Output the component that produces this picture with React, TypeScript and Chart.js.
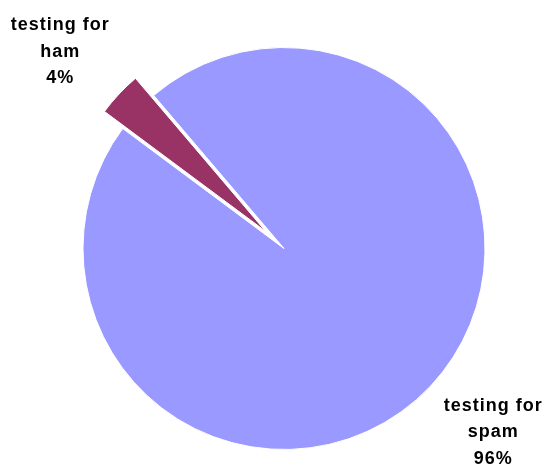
import React, { useEffect, useRef } from "react";
import { Chart, registerables } from "chart.js";

Chart.register(...registerables);

const categories: string[] = ["testing for spam", "testing for ham"];
const labelLines: string[][] = [
  ["testing for", "spam"],
  ["testing for", "ham"],
];
const values: number[] = [96.4, 3.6];
const sliceColors: string[] = ["#9999FF", "#993366"];

// explosion distance (px) of each slice and label gap, style settings
const EXPLODE = [0, 25];
const LABEL_GAP = [18, 14];

const explodePlugin = {
  id: "explodeSlices",
  beforeDatasetsDraw(chart: any) {
    const meta = chart.getDatasetMeta(0);
    meta.data.forEach((arc: any, i: number) => {
      if (!EXPLODE[i] || arc._patched) return;
      const orig = arc.draw;
      arc.draw = function (ctx: CanvasRenderingContext2D, area: any) {
        const mid = (this.startAngle + this.endAngle) / 2;
        ctx.save();
        ctx.translate(Math.cos(mid) * EXPLODE[i], Math.sin(mid) * EXPLODE[i]);
        orig.call(this, ctx, area);
        ctx.restore();
      };
      arc._patched = true;
    });
  },
};

const labelPlugin = {
  id: "outsideLabels",
  afterDraw(chart: any) {
    const ctx = chart.ctx as CanvasRenderingContext2D;
    const meta = chart.getDatasetMeta(0);
    const total = values.reduce((a, b) => a + b, 0);
    const lineHeight = 26.5;
    const spacing = 1;
    ctx.save();
    ctx.font = "bold 18px 'Liberation Sans', Arial, sans-serif";
    (ctx as any).letterSpacing = spacing + "px";
    ctx.fillStyle = "#000000";
    ctx.textAlign = "left";
    ctx.textBaseline = "alphabetic";
    meta.data.forEach((arc: any, i: number) => {
      const { x, y, startAngle, endAngle, outerRadius } = arc.getProps(
        ["x", "y", "startAngle", "endAngle", "outerRadius"],
        true
      );
      const mid = (startAngle + endAngle) / 2;
      const c = Math.cos(mid);
      const s = Math.sin(mid);
      const dist = outerRadius + EXPLODE[i] + LABEL_GAP[i];
      const px = x + dist * c;
      const py = y + dist * s;
      const pct = Math.round((values[i] / total) * 100) + "%";
      const lines = [...labelLines[i], pct];
      const widths = lines.map((l) => ctx.measureText(l).width - spacing);
      const w = Math.max(...widths);
      const h = 12.5 + lineHeight * (lines.length - 1) + 1;
      const cx = px + Math.sign(c) * (w / 2);
      const top = py + (s >= 0 ? 0 : -h);
      lines.forEach((l, k) => {
        ctx.fillText(l, cx - widths[k] / 2, top + 12.5 + k * lineHeight);
      });
    });
    ctx.restore();
  },
};

export default function App() {
  const ref = useRef<HTMLCanvasElement | null>(null);
  useEffect(() => {
    if (!ref.current) return;
    const chart = new Chart(ref.current, {
      type: "pie",
      data: {
        labels: categories,
        datasets: [
          {
            data: values,
            backgroundColor: sliceColors,
            borderColor: "#FFFFFF",
            borderWidth: 1,
            radius: 201,
          } as any,
        ],
      },
      options: {
        responsive: false,
        animation: false,
        rotation: -40.4,
        layout: { padding: { left: 26, top: 33, right: 0, bottom: 0 } },
        plugins: {
          legend: { display: false },
          tooltip: { enabled: false },
        },
      },
      plugins: [explodePlugin, labelPlugin],
    });
    return () => chart.destroy();
  }, []);
  return (
    <div style={{ position: "absolute", left: 0, top: 0, width: 542, height: 464, background: "#FFFFFF" }}>
      <canvas ref={ref} width={542} height={464} style={{ width: 542, height: 464 }} />
    </div>
  );
}
